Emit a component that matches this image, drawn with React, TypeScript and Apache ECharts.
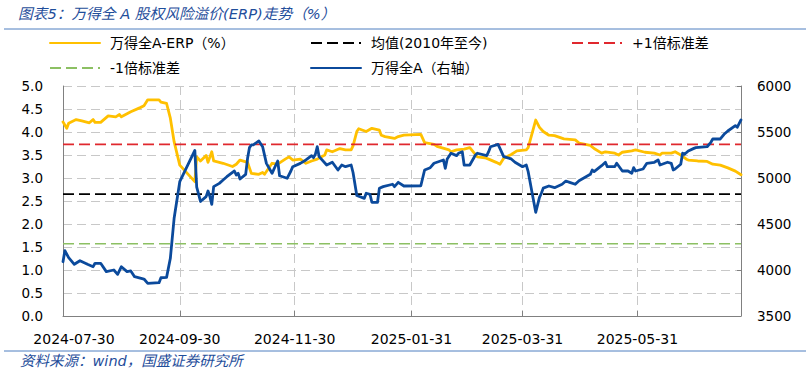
import { useEffect, useRef } from "react";
import * as echarts from "echarts";

const titleText = "图表5：万得全 A 股权风险溢价(ERP)走势（%）";
const sourceText = "资料来源：wind，国盛证券研究所";

const xStart = "2024-07-30";
const xEnd = "2025-07-25";
const xTickDates = ["2024-07-30", "2024-09-30", "2024-11-30", "2025-01-31", "2025-03-31", "2025-05-31"];

const leftMin = 0;
const leftMax = 5;
const leftStep = 0.5;
const rightMin = 3500;
const rightMax = 6000;
const rightStep = 500;

const seriesNames = ["万得全A-ERP（%）", "均值(2010年至今)", "+1倍标准差", "-1倍标准差", "万得全A（右轴）"];
const refLevels = [2.65, 3.73, 1.57];

const erpDates = [
  "2024-07-30", "2024-08-01", "2024-08-02", "2024-08-06", "2024-08-09", "2024-08-13", "2024-08-15", "2024-08-16",
  "2024-08-19", "2024-08-23", "2024-08-27", "2024-08-29", "2024-08-30", "2024-09-04", "2024-09-09", "2024-09-11",
  "2024-09-13", "2024-09-19", "2024-09-20", "2024-09-23", "2024-09-25", "2024-09-27", "2024-09-30", "2024-10-08",
  "2024-10-09", "2024-10-11", "2024-10-14", "2024-10-15", "2024-10-17", "2024-10-18", "2024-10-23", "2024-10-28",
  "2024-10-30", "2024-11-01", "2024-11-05", "2024-11-07", "2024-11-11", "2024-11-13", "2024-11-14", "2024-11-18",
  "2024-11-21", "2024-11-25", "2024-11-27", "2024-11-29", "2024-12-03", "2024-12-06", "2024-12-09", "2024-12-12",
  "2024-12-16", "2024-12-17", "2024-12-20", "2024-12-24", "2024-12-27", "2024-12-30", "2024-12-31", "2025-01-02",
  "2025-01-03", "2025-01-07", "2025-01-10", "2025-01-14", "2025-01-15", "2025-01-17", "2025-01-22", "2025-01-24",
  "2025-01-27", "2025-02-05", "2025-02-07", "2025-02-12", "2025-02-14", "2025-02-20", "2025-02-21", "2025-02-24",
  "2025-02-28", "2025-03-03", "2025-03-07", "2025-03-11", "2025-03-13", "2025-03-17", "2025-03-19", "2025-03-21",
  "2025-03-25", "2025-03-28", "2025-04-02", "2025-04-03", "2025-04-07", "2025-04-09", "2025-04-11", "2025-04-14",
  "2025-04-17", "2025-04-22", "2025-04-28", "2025-04-30", "2025-05-06", "2025-05-08", "2025-05-12", "2025-05-14",
  "2025-05-19", "2025-05-21", "2025-05-23", "2025-05-28", "2025-05-30", "2025-06-04", "2025-06-09", "2025-06-12",
  "2025-06-13", "2025-06-18", "2025-06-20", "2025-06-23", "2025-06-26", "2025-06-27", "2025-07-02", "2025-07-07",
  "2025-07-10", "2025-07-14", "2025-07-18", "2025-07-22", "2025-07-25",
];
const erpValues = [
  4.22, 4.08, 4.19, 4.27, 4.24, 4.2, 4.27, 4.21,
  4.21, 4.35, 4.33, 4.38, 4.33, 4.44, 4.53, 4.57,
  4.7, 4.7, 4.65, 4.62, 4.3, 3.79, 3.28, 2.92,
  3.46, 3.37, 3.49, 3.34, 3.57, 3.37, 3.32, 3.25,
  3.3, 3.39, 3.34, 3.1, 3.08, 3.12, 3.08, 3.32,
  3.3, 3.41, 3.46, 3.39, 3.41, 3.32, 3.37, 3.41,
  3.5, 3.61, 3.57, 3.64, 3.61, 3.61, 3.7, 4.01,
  4.07, 4.01, 4.08, 4.04, 3.93, 3.9, 3.86, 3.9,
  3.93, 3.95, 3.77, 3.73, 3.68, 3.61, 3.57, 3.61,
  3.63, 3.66, 3.46, 3.44, 3.41, 3.34, 3.3, 3.43,
  3.51, 3.59, 3.61, 3.66, 4.26, 4.1, 4.01, 3.93,
  3.92, 3.85, 3.83, 3.76, 3.71, 3.64, 3.54, 3.57,
  3.54, 3.5, 3.56, 3.59, 3.61, 3.56, 3.54, 3.5,
  3.54, 3.54, 3.57, 3.5, 3.41, 3.39, 3.37, 3.36,
  3.3, 3.28, 3.22, 3.15, 3.07,
];

const indexDates = [
  "2024-07-30", "2024-07-31", "2024-08-02", "2024-08-05", "2024-08-08", "2024-08-12", "2024-08-15", "2024-08-16",
  "2024-08-19", "2024-08-22", "2024-08-26", "2024-08-28", "2024-08-30", "2024-09-02", "2024-09-04", "2024-09-06",
  "2024-09-11", "2024-09-13", "2024-09-19", "2024-09-20", "2024-09-23", "2024-09-25", "2024-09-27", "2024-09-30",
  "2024-10-08", "2024-10-09", "2024-10-11", "2024-10-14", "2024-10-15", "2024-10-16", "2024-10-17", "2024-10-18",
  "2024-10-21", "2024-10-23", "2024-10-25", "2024-10-28", "2024-10-29", "2024-10-30", "2024-10-31", "2024-11-01",
  "2024-11-04", "2024-11-05", "2024-11-06", "2024-11-07", "2024-11-08", "2024-11-11", "2024-11-13", "2024-11-15",
  "2024-11-18", "2024-11-20", "2024-11-21", "2024-11-22", "2024-11-26", "2024-11-28", "2024-11-29", "2024-12-03",
  "2024-12-06", "2024-12-09", "2024-12-10", "2024-12-11", "2024-12-12", "2024-12-13", "2024-12-17", "2024-12-20",
  "2024-12-23", "2024-12-25", "2024-12-27", "2024-12-30", "2024-12-31", "2025-01-02", "2025-01-06", "2025-01-07",
  "2025-01-09", "2025-01-10", "2025-01-13", "2025-01-14", "2025-01-16", "2025-01-21", "2025-01-22", "2025-01-24",
  "2025-01-27", "2025-02-05", "2025-02-07", "2025-02-10", "2025-02-12", "2025-02-17", "2025-02-18", "2025-02-19",
  "2025-02-21", "2025-02-24", "2025-02-25", "2025-02-27", "2025-02-28", "2025-03-03", "2025-03-06", "2025-03-07",
  "2025-03-12", "2025-03-13", "2025-03-14", "2025-03-18", "2025-03-19", "2025-03-21", "2025-03-25", "2025-03-27",
  "2025-03-31", "2025-04-02", "2025-04-03", "2025-04-07", "2025-04-09", "2025-04-10", "2025-04-11", "2025-04-14",
  "2025-04-17", "2025-04-21", "2025-04-23", "2025-04-25", "2025-04-28", "2025-04-30", "2025-05-06", "2025-05-07",
  "2025-05-08", "2025-05-12", "2025-05-14", "2025-05-15", "2025-05-19", "2025-05-20", "2025-05-23", "2025-05-26",
  "2025-05-28", "2025-05-29", "2025-05-30", "2025-06-03", "2025-06-05", "2025-06-09", "2025-06-11", "2025-06-12",
  "2025-06-16", "2025-06-18", "2025-06-19", "2025-06-20", "2025-06-23", "2025-06-24", "2025-06-25", "2025-06-27",
  "2025-06-30", "2025-07-01", "2025-07-07", "2025-07-09", "2025-07-10", "2025-07-14", "2025-07-16", "2025-07-18",
  "2025-07-22", "2025-07-23", "2025-07-25",
];
const indexValues = [
  4090, 4210, 4134, 4062, 4101, 4062, 4036, 4073,
  4073, 3982, 4000, 3953, 4036, 3982, 3990, 3927,
  3902, 3855, 3862, 3916, 3920, 4127, 4562, 4960,
  5300, 4900, 4745, 4797, 4859, 4797, 4714, 4906,
  4942, 4978, 5014, 5062, 5076, 5033, 5051, 4989,
  5040, 5214, 5330, 5359, 5359, 5403, 5340, 5159,
  5051, 5141, 5185, 5025, 4997, 5076, 5123, 5159,
  5196, 5243, 5221, 5258, 5340, 5232, 5141, 5171,
  5087, 5141, 5123, 5141, 5060, 4810, 4779, 4834,
  4823, 4736, 4736, 4888, 4906, 4932, 4906, 4953,
  4913, 4916, 5087, 5112, 5160, 5196, 5105, 5207,
  5269, 5243, 5269, 5286, 5141, 5141, 5250, 5269,
  5243, 5286, 5340, 5366, 5322, 5232, 5207, 5171,
  5123, 5141, 5069, 4627, 4790, 4834, 4890, 4913,
  4895, 4932, 4967, 4953, 4932, 4970, 5040, 5087,
  5069, 5134, 5171, 5123, 5123, 5160, 5076, 5076,
  5051, 5112, 5076, 5098, 5160, 5171, 5196, 5141,
  5171, 5160, 5087, 5098, 5149, 5269, 5258, 5294,
  5322, 5330, 5340, 5388, 5424, 5424, 5475, 5511,
  5569, 5551, 5631,
];

const colors = ["#FFC000", "#000000", "#E0282E", "#8CC063", "#0B4A9C"];
const fontNum = "'DejaVu Sans', 'Noto Sans CJK SC', sans-serif";
const fontCjk = "'DejaVu Sans', 'Noto Sans CJK SC', sans-serif";

function ts(d: string): number {
  const [y, m, dd] = d.split("-").map(Number);
  return new Date(y, m - 1, dd).getTime();
}
function pad(n: number) {
  return n < 10 ? "0" + n : "" + n;
}
function fmt(v: number) {
  const d = new Date(v);
  return d.getFullYear() + "-" + pad(d.getMonth() + 1) + "-" + pad(d.getDate());
}

export default function App() {
  const ref = useRef<HTMLDivElement>(null);
  useEffect(() => {
    document.body.style.margin = "0";
    if (!ref.current) return;
    const chart = echarts.init(ref.current, undefined, { renderer: "svg" });
    const tickTs = xTickDates.map(ts);
    const x0 = ts(xStart);
    const x1 = ts(xEnd);
    const refSeries = refLevels.map((v, i) => ({
      name: seriesNames[i + 1],
      type: "line",
      yAxisIndex: 0,
      symbol: "none",
      data: [[x0, v], [x1, v]],
      lineStyle: { color: colors[i + 1], width: 1.6, type: [11, 5] },
      itemStyle: { color: colors[i + 1], opacity: 0 },
      z: 3,
    }));
    const legendPos = [[49, 36], [310, 36], [571, 36], [49, 61], [310, 61]];
    const option: any = {
      animation: false,
      backgroundColor: "#ffffff",
      grid: { left: 63, right: 69, top: 86, bottom: 58, containLabel: false, outerBoundsMode: "none" },
      legend: seriesNames.map((n, i) => ({
        data: [n],
        left: legendPos[i][0],
        top: legendPos[i][1],
        padding: 0,
        itemWidth: 50,
        itemHeight: 14,
        itemStyle: { opacity: 0, borderWidth: 0 },
        textStyle: { fontSize: 14, color: "#000", fontFamily: fontCjk, padding: [0, 0, 0, 5] },
        selectedMode: false,
      })),
      xAxis: {
        type: "value",
        min: x0,
        max: x1,
        axisLine: { show: true, lineStyle: { color: "#808080", width: 1 } },
        axisTick: { show: true, inside: true, length: 5, customValues: tickTs, lineStyle: { color: "#808080" } },
        axisLabel: {
          customValues: tickTs,
          formatter: (v: number) => (v === x0 ? "{first|" + fmt(v) + "}" : fmt(v)),
          rich: {
            first: { fontSize: 14, fontFamily: fontNum, color: "#000", padding: [0, 0, 0, 22] },
          },
          fontSize: 14,
          fontFamily: fontNum,
          color: "#000",
          margin: 16,
          showMinLabel: true,
          showMaxLabel: true,
        },
        splitLine: { show: true, lineStyle: { color: "#C8C8C8", type: [9, 5], width: 1 } },
      },
      yAxis: [
        {
          type: "value",
          min: leftMin,
          max: leftMax,
          interval: leftStep,
          axisLine: { show: true, lineStyle: { color: "#808080" } },
          axisTick: { show: false },
          axisLabel: { formatter: (v: number) => v.toFixed(1), fontSize: 13.5, fontFamily: fontNum, color: "#000", margin: 20 },
          splitLine: { show: true, lineStyle: { color: "#C8C8C8", type: [9, 5], width: 1 } },
        },
        {
          type: "value",
          min: rightMin,
          max: rightMax,
          interval: rightStep,
          position: "right",
          axisLine: { show: true, lineStyle: { color: "#808080" } },
          axisTick: { show: true, inside: true, length: 4, lineStyle: { color: "#808080" } },
          axisLabel: { formatter: (v: number) => String(v), fontSize: 13.5, fontFamily: fontNum, color: "#000", margin: 16 },
          splitLine: { show: false },
        },
      ],
      series: [
        {
          name: seriesNames[0],
          type: "line",
          yAxisIndex: 0,
          symbol: "none",
          data: erpDates.map((d, i) => [ts(d), erpValues[i]]),
          lineStyle: { color: colors[0], width: 2.8, cap: "round", join: "round" },
          itemStyle: { color: colors[0], opacity: 0 },
          z: 2,
        },
        ...refSeries,
        {
          name: seriesNames[4],
          type: "line",
          yAxisIndex: 1,
          symbol: "none",
          data: indexDates.map((d, i) => [ts(d), indexValues[i]]),
          lineStyle: { color: colors[4], width: 2.8, cap: "round", join: "round" },
          itemStyle: { color: colors[4], opacity: 0 },
          z: 4,
        },
      ],
      graphic: [
        {
          type: "text",
          x: 18,
          y: 13,
          style: { text: titleText, fontSize: 14.7, fontStyle: "italic", fontFamily: fontCjk, fill: "#1F4E9B", verticalAlign: "middle" },
        },
        { type: "line", shape: { x1: 4, y1: 29, x2: 806, y2: 29 }, style: { stroke: "#4F7FC0", lineWidth: 1 } },
        { type: "line", shape: { x1: 4, y1: 351, x2: 806, y2: 351 }, style: { stroke: "#4F7FC0", lineWidth: 1 } },
        {
          type: "text",
          x: 20,
          y: 361,
          style: { text: sourceText, fontSize: 14.5, fontStyle: "italic", fontFamily: fontCjk, fill: "#1F4E9B", verticalAlign: "middle" },
        },
      ],
    };
    chart.setOption(option);
    return () => chart.dispose();
  }, []);
  return <div ref={ref} style={{ position: "fixed", left: 0, top: 0, width: 810, height: 374 }} />;
}
